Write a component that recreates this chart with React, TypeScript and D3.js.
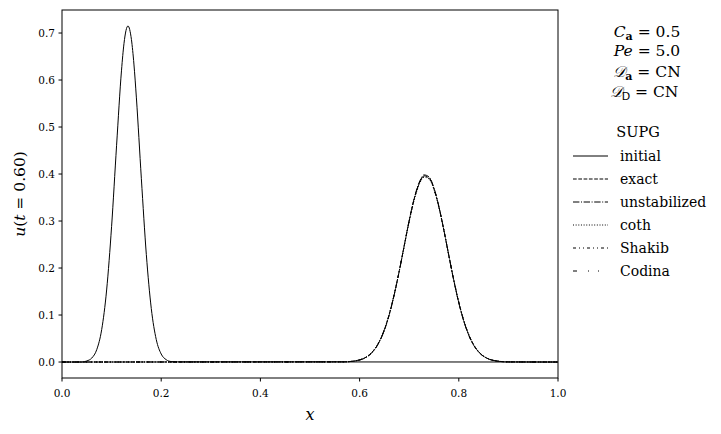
import React from "react";
import * as d3 from "d3";

// initial condition u(x, 0)
const xInitial = [0, 0.04, 0.05, 0.06, 0.07, 0.08, 0.09, 0.1, 0.11, 0.12, 0.125, 0.133, 0.14, 0.145, 0.15, 0.16, 0.17, 0.18, 0.19, 0.2, 0.21, 0.22, 0.23, 1.0];
const uInitial = [0, 0, 0.0023, 0.0084, 0.0262, 0.0689, 0.1533, 0.2887, 0.4601, 0.621, 0.678, 0.715, 0.686, 0.634, 0.562, 0.39, 0.229, 0.114, 0.048, 0.017, 0.005, 0.001, 0.0003, 0];

// solutions at t = 0.60
const xPulse = [0, 0.57, 0.58, 0.59, 0.6, 0.61, 0.62, 0.63, 0.64, 0.65, 0.66, 0.67, 0.68, 0.69, 0.7, 0.71, 0.72, 0.73, 0.74, 0.75, 0.76, 0.77, 0.78, 0.79, 0.8, 0.81, 0.82, 0.83, 0.84, 0.85, 0.86, 0.87, 0.88, 0.89, 0.9, 1.0];
const uExact = [0, 0.0004, 0.001, 0.0022, 0.0044, 0.0084, 0.0153, 0.0266, 0.0438, 0.0686, 0.1021, 0.1445, 0.1941, 0.2478, 0.3008, 0.3469, 0.3802, 0.3961, 0.3921, 0.3688, 0.3297, 0.2801, 0.2261, 0.1735, 0.1265, 0.0877, 0.0577, 0.0361, 0.0215, 0.0121, 0.0065, 0.0033, 0.0016, 0.0007, 0.0003, 0];
const uUnstab = [0, 0.0003, 0.0009, 0.002, 0.0041, 0.008, 0.0148, 0.0259, 0.043, 0.0677, 0.1012, 0.1438, 0.1937, 0.2478, 0.3013, 0.348, 0.3818, 0.3981, 0.394, 0.3702, 0.3305, 0.2802, 0.2257, 0.1727, 0.1256, 0.0868, 0.057, 0.0356, 0.0211, 0.0119, 0.0064, 0.0032, 0.0015, 0.0006, 0.0002, 0];
const uCoth = [0, 0.0005, 0.0012, 0.0025, 0.0048, 0.009, 0.0161, 0.0276, 0.0449, 0.0697, 0.1031, 0.1451, 0.194, 0.2468, 0.299, 0.3445, 0.3774, 0.3932, 0.3895, 0.3668, 0.3284, 0.2796, 0.2263, 0.1743, 0.1276, 0.0889, 0.0588, 0.037, 0.0222, 0.0127, 0.0069, 0.0036, 0.0018, 0.0008, 0.0003, 0];
const uShakib = [0, 0.0004, 0.0011, 0.0024, 0.0046, 0.0087, 0.0157, 0.0271, 0.0444, 0.0692, 0.1026, 0.1448, 0.1941, 0.2473, 0.2999, 0.3457, 0.3788, 0.3946, 0.3908, 0.3678, 0.3291, 0.2799, 0.2262, 0.1739, 0.127, 0.0883, 0.0582, 0.0365, 0.0218, 0.0124, 0.0067, 0.0034, 0.0017, 0.0007, 0.0003, 0];
const uCodina = [0, 0.0004, 0.0011, 0.0023, 0.0045, 0.0086, 0.0156, 0.0269, 0.0442, 0.069, 0.1024, 0.1447, 0.1941, 0.2475, 0.3003, 0.3462, 0.3794, 0.3952, 0.3913, 0.3682, 0.3293, 0.28, 0.2262, 0.1737, 0.1268, 0.088, 0.058, 0.0363, 0.0217, 0.0123, 0.0066, 0.0034, 0.0016, 0.0007, 0.0003, 0];

const xTicks = [0, 0.2, 0.4, 0.6, 0.8, 1.0];
const yTicks = [0, 0.1, 0.2, 0.3, 0.4, 0.5, 0.6, 0.7];

const seriesNames = ["initial", "exact", "unstabilized", "coth", "Shakib", "Codina"];
const dashes = ["", "3.7,1.6", "6.4,1.6,1,1.6", "1,1.65", "3,3,1,3,1,3", "4,11,1,9,1,11"];

const font = "'DejaVu Serif', serif";

export default function App() {
  const left = 62, right = 558, top = 10, bottom = 378;
  const xScale = d3.scaleLinear().domain([0, 1]).range([left, right]);
  const yScale = d3.scaleLinear().domain([-0.034, 0.749]).range([bottom, top]);
  const line = d3.line<[number, number]>()
    .x(d => xScale(d[0]))
    .y(d => yScale(d[1]))
    .curve(d3.curveMonotoneX);

  const series = [
    d3.zip(xInitial, uInitial),
    d3.zip(xPulse, uExact),
    d3.zip(xPulse, uUnstab),
    d3.zip(xPulse, uCoth),
    d3.zip(xPulse, uShakib),
    d3.zip(xPulse, uCodina),
  ] as [number, number][][];

  const legendX = 573, legendY = 156, rowH = 23;
  const annX = 647;

  return (
    <svg width={721} height={434} style={{ position: "absolute", left: 0, top: 0, background: "#fff" }} fontFamily={font}>
      <defs>
        <clipPath id="plot"><rect x={left} y={top} width={right - left} height={bottom - top} /></clipPath>
      </defs>
      <rect width={721} height={434} fill="#fff" />
      <g clipPath="url(#plot)">
        {series.map((s, i) => (
          <path key={i} d={line(s) || ""} fill="none" stroke="#000" strokeWidth={1}
            strokeDasharray={dashes[i] || undefined} />
        ))}
      </g>
      <rect x={left} y={top} width={right - left} height={bottom - top} fill="none" stroke="#000" strokeWidth={1} />
      <g fontSize={10.5}>
        {xTicks.map(t => (
          <g key={t}>
            <line x1={xScale(t)} x2={xScale(t)} y1={bottom} y2={bottom + 3.5} stroke="#000" />
            <text x={xScale(t)} y={bottom + 19} textAnchor="middle">{t.toFixed(1)}</text>
          </g>
        ))}
        {yTicks.map(t => (
          <g key={t}>
            <line x1={left - 3.5} x2={left} y1={yScale(t)} y2={yScale(t)} stroke="#000" />
            <text x={left - 7} y={yScale(t) + 4} textAnchor="end">{t.toFixed(1)}</text>
          </g>
        ))}
      </g>
      <text x={(left + right) / 2} y={420} textAnchor="middle" fontSize={16} fontStyle="italic">x</text>
      <text transform={`translate(25,${(top + bottom) / 2}) rotate(-90)`} textAnchor="middle" fontSize={15.5}>
        <tspan fontStyle="italic">u</tspan>(<tspan fontStyle="italic">t</tspan> = 0.60)
      </text>

      <g fontSize={15.5} textAnchor="middle">
        <text x={annX} y={37}>
          <tspan fontStyle="italic">C</tspan><tspan fontWeight="bold" fontSize={11} dy={3}>a</tspan><tspan dy={-3}> = 0.5</tspan>
        </text>
        <text x={annX} y={56}>
          <tspan fontStyle="italic">Pe</tspan> = 5.0
        </text>
        <text x={annX} y={77}>
          <tspan fontStyle="italic">𝒟</tspan><tspan fontWeight="bold" fontSize={11} dy={3}>a</tspan><tspan dy={-3}> = CN</tspan>
        </text>
        <text x={annX - 3} y={97}>
          <tspan fontStyle="italic">𝒟</tspan><tspan fontFamily="'DejaVu Sans', sans-serif" fontSize={11} dy={3}>D</tspan><tspan dy={-3}> = CN</tspan>
        </text>
      </g>

      <text x={638} y={137} textAnchor="middle" fontSize={14.5}>SUPG</text>
      <g fontSize={14}>
        {seriesNames.map((name, i) => (
          <g key={name} transform={`translate(0,${legendY + i * rowH})`}>
            <line x1={legendX} x2={legendX + 35} y1={0} y2={0} stroke="#000" strokeWidth={1}
              strokeDasharray={dashes[i] || undefined} />
            <text x={620} y={5}>{name}</text>
          </g>
        ))}
      </g>
    </svg>
  );
}
